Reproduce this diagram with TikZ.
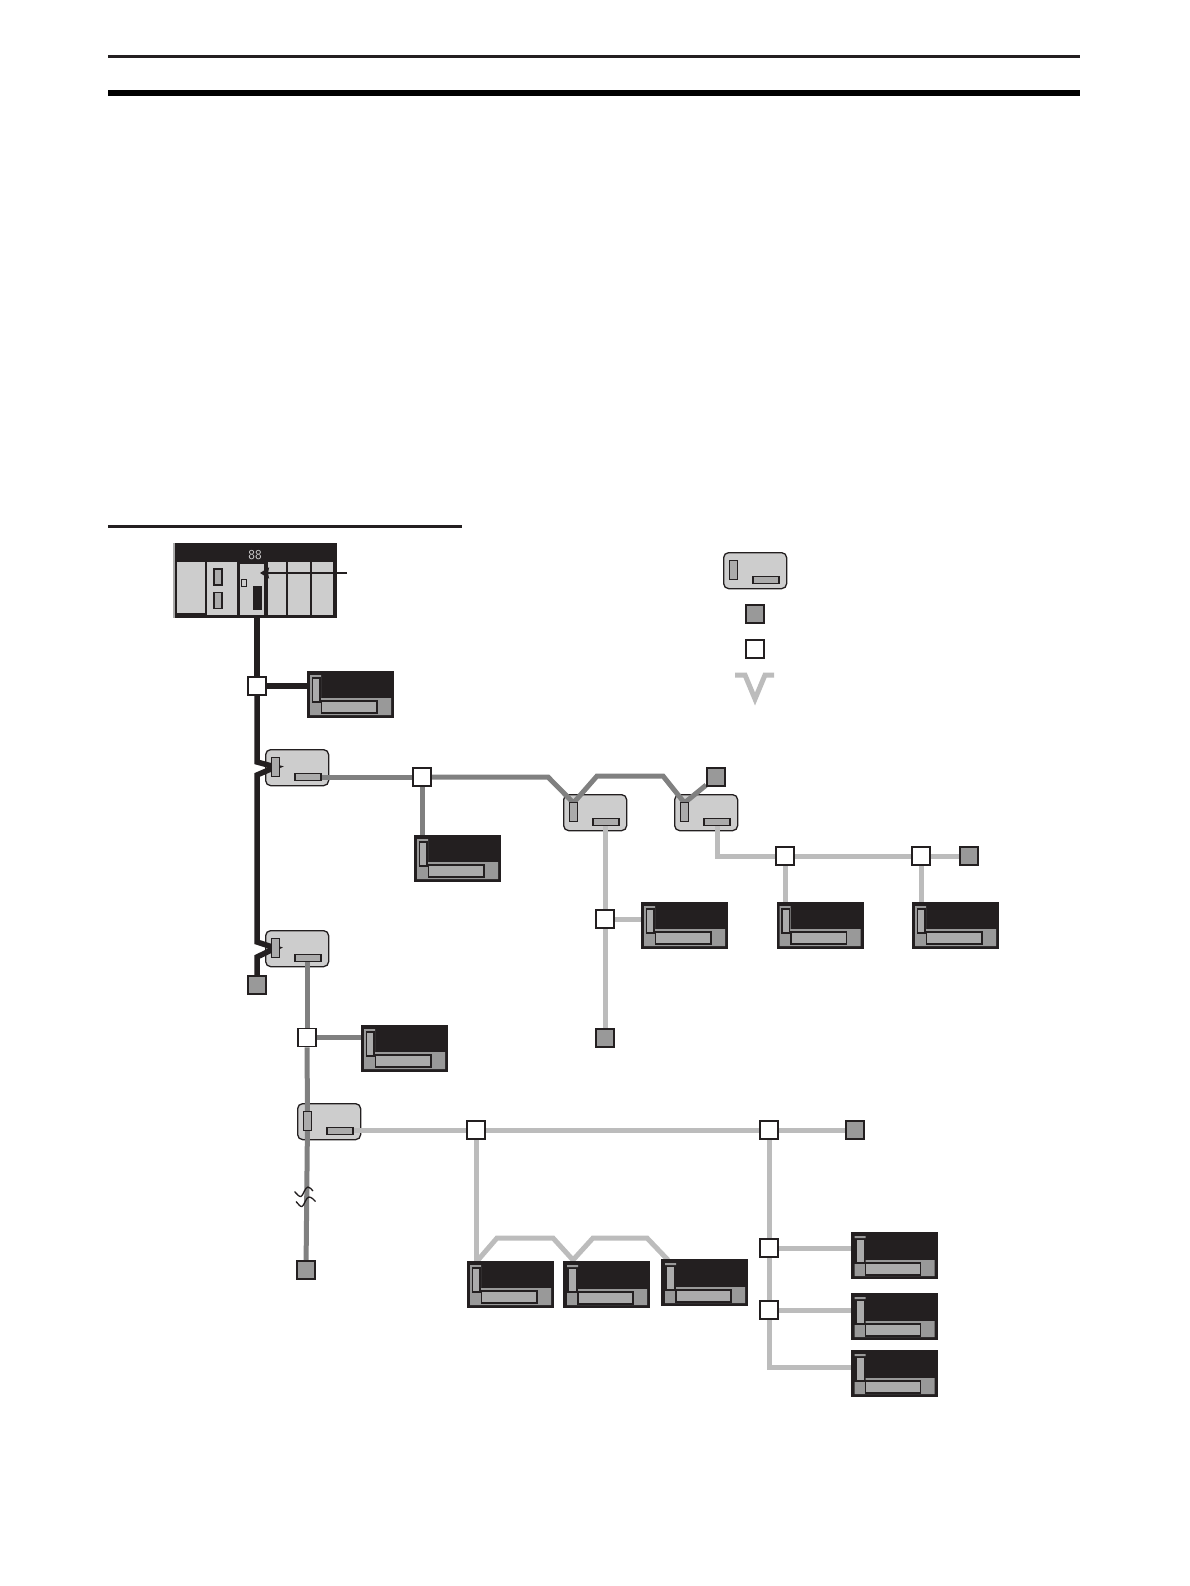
\documentclass[tikz,border=0pt]{standalone}
\usetikzlibrary{arrows.meta}
\definecolor{inkdark}{HTML}{231F20}
\definecolor{wiremid}{HTML}{808080}
\definecolor{wirelight}{HTML}{BCBCBC}
\definecolor{bodygray}{HTML}{CDCDCD}
\definecolor{slotgray}{HTML}{ABABAB}
\definecolor{bandgray}{HTML}{999999}
\pgfdeclarelayer{wire}
\pgfdeclarelayer{under}
\pgfsetlayers{under,wire,main}
\newcommand{\unitbox}[3]{%
  \begin{pgfonlayer}{under}
    \node[unit] (#1) at (#2,#3) {};
  \end{pgfonlayer}
  \node[lport] (#1a) at (#2+10.5,#3+18) {};
  \node[rport] (#1b) at (#2+43,#3+28) {};
}
\newcommand{\devbox}[3]{%
  \node[dev] (#1) at (#2,#3) {};
  \begin{scope}[shift={(#2,#3)}]
    \fill[bandgray] (3,4) rectangle (14,27) (3,27) rectangle (84,44);
    \filldraw[slotgray, draw=inkdark, line width=1.2pt] (5.5,7) rectangle (13,31);
    \filldraw[slotgray, draw=inkdark, line width=1.2pt] (14.5,30) rectangle (70,42);
  \end{scope}
}
\newcommand{\devboxb}[3]{%
  \node[dev] (#1) at (#2,#3) {};
  \begin{scope}[shift={(#2,#3)}]
    \fill[bandgray] (4,4) rectangle (15,6) (15,28) rectangle (84,44) (4,32) rectangle (84,44);
    \fill[slotgray] (6,8) rectangle (13,30);
    \filldraw[slotgray, draw=inkdark, line width=1.2pt] (15,31) rectangle (70,43);
  \end{scope}
}
\begin{document}
\begin{tikzpicture}[x=1pt,y=-1pt,
  dev/.style={anchor=north west, fill=inkdark, inner sep=0pt, minimum width=87pt, minimum height=47pt},
  unit/.style={anchor=north west, draw=inkdark, line width=1.3pt, fill=bodygray, rounded corners=5pt, inner sep=0pt, minimum width=63pt, minimum height=36pt},
  lport/.style={draw=inkdark, line width=1.3pt, fill=slotgray, inner sep=0pt, minimum width=7.5pt, minimum height=19pt},
  rport/.style={draw=inkdark, line width=1.3pt, fill=slotgray, inner sep=0pt, minimum width=26pt, minimum height=7pt},
  tap/.style={draw=inkdark, line width=1.8pt, fill=white, inner sep=0pt, minimum size=18pt},
  term/.style={draw=inkdark, line width=1.8pt, fill=bandgray, inner sep=0pt, minimum size=18pt},
  slot/.style={anchor=north west, fill=bodygray, inner sep=0pt},
  holder/.style={draw=inkdark, line width=1.2pt, fill=slotgray, inner sep=0pt},
  wa/.style={draw=inkdark, line width=5.5pt},
  wb/.style={draw=wiremid, line width=5pt},
  wc/.style={draw=wirelight, line width=5pt}]
\useasboundingbox (0,0) rectangle (1190,1586);
\draw[line width=2.2pt, inkdark] (108,56.5) coordinate (ra) -- (1080,56.5) coordinate (rb);
\draw[line width=6pt, black] (108,93) coordinate (rc) -- (1080,93) coordinate (rd);
\draw[line width=2.2pt, inkdark] (108,526.5) coordinate (re) -- (462,526.5) coordinate (rf);

\node[anchor=north west, fill=inkdark, inner sep=0pt, minimum width=164pt, minimum height=75pt] (plc) at (173,543) {};
\fill[slotgray] (173,543) rectangle (174.5,618);
\node[slot, minimum width=28pt, minimum height=51pt] (s1) at (177,562) {};
\node[slot, minimum width=30pt, minimum height=53pt] (s2) at (207,562) {};
\node[slot, minimum width=24pt, minimum height=51pt] (s3) at (240,564) {};
\node[slot, minimum width=18pt, minimum height=53pt] (s4) at (268,562) {};
\node[slot, minimum width=22pt, minimum height=53pt] (s5) at (288,562) {};
\node[slot, minimum width=21pt, minimum height=53pt] (s6) at (312,562) {};
\node[holder, minimum width=8pt, minimum height=16pt] (h1) at (218,577) {};
\node[holder, minimum width=8pt, minimum height=16pt] (h2) at (218,600.5) {};
\node[holder, fill=bodygray, minimum width=4.5pt, minimum height=7pt] (h3) at (244,583) {};
\node[fill=inkdark, inner sep=0pt, minimum width=9pt, minimum height=24pt] (plcport) at (257,598) {};
\node[text=bodygray, font=\sffamily\fontsize{13.5}{13.5}\selectfont, inner sep=0pt] (plcled) at (255,555) {88};

\node[unit] (key) at (723,552) {};
\node[lport] (keya) at (733.5,570) {};
\node[rport, fill=slotgray] (keyb) at (766,580) {};
\node[term] (keyterm) at (755,614) {};
\node[tap] (keytap) at (755,649) {};
\draw[wirelight, line width=5pt] (735,675) coordinate (ka) -- (745,675) coordinate (kb) -- (755,699) coordinate (kc) -- (765,675) coordinate (kd) -- (774,675) coordinate (ke);

\node[tap] (t1) at (257,686) {};
\node[tap] (t2) at (422,777) {};
\node[tap] (t3) at (605,919) {};
\node[tap] (t4) at (785,856) {};
\node[tap] (t5) at (921,856) {};
\node[tap] (t6) at (307,1037.5) {};
\node[tap] (t7) at (476,1130) {};
\node[tap] (t8) at (769,1130) {};
\node[tap] (t9) at (769,1248) {};
\node[tap] (t10) at (769,1310) {};

\node[term] (e1) at (716,777) {};
\node[term] (e2) at (969,856) {};
\node[term] (e3) at (605,1038) {};
\node[term] (e4) at (257,985) {};
\node[term] (e5) at (855,1130) {};
\node[term] (e6) at (306,1270) {};

\devbox{d1}{307}{671}
\devbox{d2}{414}{835}
\devbox{d3}{641}{902}
\devbox{d4}{776.5}{902}
\devbox{d5}{912}{902}
\devbox{d6}{361}{1025}
\devbox{d7}{467}{1261}
\devboxb{d8}{563}{1261}
\devboxb{d9}{661}{1259}
\devboxb{d10}{850.5}{1232}
\devboxb{d11}{850.5}{1293}
\devboxb{d12}{850.5}{1350}

\unitbox{u1}{265}{749}
\unitbox{u2}{265}{930}
\unitbox{u3}{563}{794}
\unitbox{u4}{674}{794}
\unitbox{u5}{297}{1103}

\begin{pgfonlayer}{wire}
\draw[wa] (plcport) -- (t1);
\draw[wa] (t1) -- (d1.west |- t1);
\draw[wa] (t1) -- (257,762) -- (u1a.center) -- (257,775) -- (257,942) -- (u2a.center) -- (257,957) -- (e4);
\draw[wb] (u1b) -- (t2);
\draw[wb] (t2) -- (d2.north -| t2);
\draw[wb] (t2) -- (548,777) -- ([yshift=-1pt]u3a.north) -- (597,776) -- (663,776) -- ([yshift=-1pt]u4a.north) -- (e1);
\draw[wc] (u3b.south -| t3) -- (t3);
\draw[wc] (t3) -- (e3);
\draw[wc] (t3) -- (d3.west |- t3);
\draw[wc] (u4b) |- (t4);
\draw[wc] (t4) -- (t5);
\draw[wc] (t5) -- (e2);
\draw[wc] (t4) -- (d4.north -| t4);
\draw[wc] (t5) -- (d5.north -| t5);
\draw[wb] (u2b.south -| t6) -- (t6);
\draw[wb] (t6) -- (d6.west |- t6);
\draw[wb] (t6) -- (u5a);
\draw[wb] (u5a) -- (e6);
\draw[wc] (t7 -| u5b.east) -- (t7);
\draw[wc] (t7) -- (t8);
\draw[wc] (t8) -- (e5);
\draw[wc] (t7) -- (d7.north -| t7);
\draw[wc] (478,1260) -- (497,1238) -- (553,1238) -- (573,1260) -- (593,1238) -- (647,1238) -- (668,1260);
\draw[wc] (t8) -- (t9);
\draw[wc] (t9) -- (t10);
\draw[wc] (t9) -- (d10.west |- t9);
\draw[wc] (t10) -- (d11.west |- t10);
\draw[wc] (t10) |- (d12.west |- 0,1367);
\end{pgfonlayer}

\draw[inkdark, line width=2pt, -{Stealth[length=9pt,width=11pt,inset=1pt]}] (347,573) coordinate (plcin) -- (260,573) coordinate (plcto);
\draw[inkdark, line width=1.3pt] (294.5,1191.5) .. controls (297,1194) and (299,1197) .. (301,1196.5) .. controls (303,1196) and (305,1187) .. (308,1187) .. controls (310,1187) and (311.5,1189.5) .. (313,1191);
\draw[inkdark, line width=1.3pt] (296,1201.5) .. controls (298.5,1204) and (300,1207) .. (302,1206.5) .. controls (304,1206) and (306,1197) .. (309,1197) .. controls (311.5,1197) and (314,1200) .. (315.5,1201.5);
\end{tikzpicture}
\end{document}
